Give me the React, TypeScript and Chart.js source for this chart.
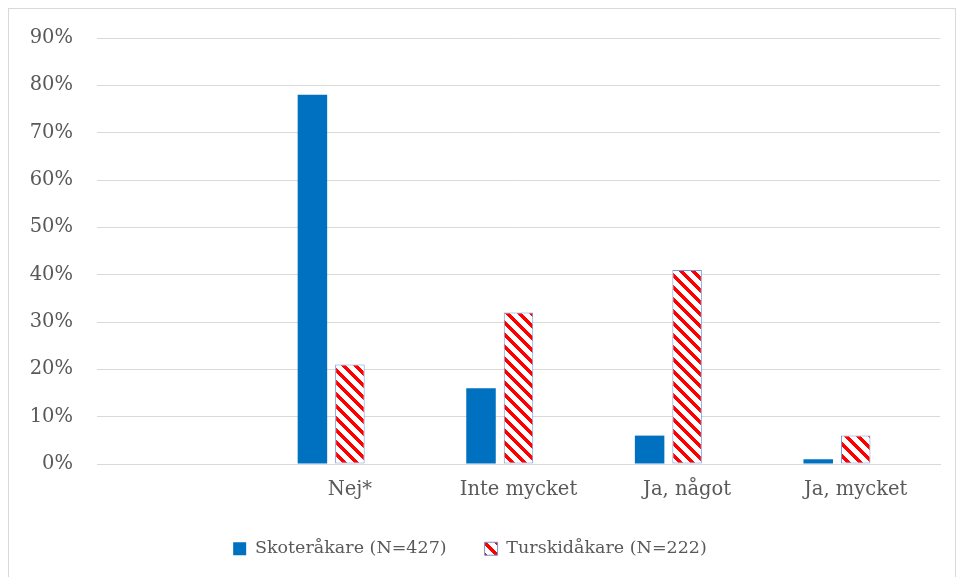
import React, { useEffect, useRef } from "react";
import { Chart, registerables } from "chart.js";

Chart.register(...registerables);

const categories = ["", "Nej*", "Inte mycket", "Ja, något", "Ja, mycket"];
const skoterValues = [null, 78, 16, 6, 1];
const turskidValues = [null, 21, 32, 41, 6];
const emptySeries = [null, null, null, null, null];
const seriesNames = ["Skoteråkare (N=427)", "Turskidåkare (N=222)", ""];
const yMax = 90;
const yStep = 10;

function makePattern(): CanvasPattern | string {
  const size = 12;
  const c = document.createElement("canvas");
  c.width = size;
  c.height = size;
  const ctx = c.getContext("2d");
  if (!ctx) return "#ff0000";
  ctx.fillStyle = "#ffffff";
  ctx.fillRect(0, 0, size, size);
  ctx.fillStyle = "#ff0000";
  for (let y = 0; y < size; y++) {
    for (let x = 0; x < size; x++) {
      const d = (((x - y) % size) + size) % size;
      if (d < 5) ctx.fillRect(x, y, 1, 1);
    }
  }
  const p = ctx.createPattern(c, "repeat");
  return p || "#ff0000";
}

export default function App() {
  const canvasRef = useRef<HTMLCanvasElement | null>(null);

  useEffect(() => {
    if (!canvasRef.current) return;
    const pattern = makePattern();
    const font = "'DejaVu Serif', serif";
    const chart = new Chart(canvasRef.current, {
      type: "bar",
      data: {
        labels: categories,
        datasets: [
          {
            label: seriesNames[0],
            data: skoterValues,
            backgroundColor: "#0070c0",
            borderWidth: 0,
            categoryPercentage: 0.667,
            barPercentage: 0.787,
          },
          {
            label: seriesNames[1],
            data: turskidValues,
            backgroundColor: pattern as any,
            borderColor: "#6f98d4",
            borderWidth: 1,
            borderSkipped: false,
            categoryPercentage: 0.667,
            barPercentage: 0.787,
          },
          {
            label: seriesNames[2],
            data: emptySeries,
            backgroundColor: "#a5a5a5",
            categoryPercentage: 0.667,
            barPercentage: 0.787,
          },
        ],
      },
      options: {
        responsive: false,
        animation: false,
        maintainAspectRatio: false,
        layout: { padding: { left: 0, right: 17, top: 38, bottom: 9.5 } },
        plugins: {
          tooltip: { enabled: false },
          legend: {
            position: "bottom",
            labels: {
              filter: (item) => item.text !== "",
              boxWidth: 13,
              boxHeight: 13,
              padding: 38,
              color: "#595959",
              font: { family: font, size: 17.5 },
            },
          },
        },
        scales: {
          x: {
            grid: { display: false, drawTicks: false },
            border: { display: true, color: "#d9d9d9", width: 1 },
            ticks: {
              color: "#595959",
              padding: 14,
              maxRotation: 0,
              autoSkip: false,
              font: { family: font, size: 19.5 },
            },
            afterFit: (scale: any) => {
              scale.height = 38;
            },
          },
          y: {
            min: 0,
            max: yMax,
            grid: { color: "#d9d9d9", lineWidth: 1, drawTicks: false },
            border: { display: false },
            ticks: {
              stepSize: yStep,
              color: "#595959",
              padding: 24,
              font: { family: font, size: 19.5 },
              callback: (v: any) => v + "%",
            },
            afterFit: (scale: any) => {
              scale.width = 97;
            },
          },
        },
      },
    });
    return () => chart.destroy();
  }, []);

  return (
    <div
      style={{
        position: "absolute",
        left: 0,
        top: 0,
        width: 957,
        height: 577,
        overflow: "hidden",
        background: "#ffffff",
      }}
    >
      <canvas
        ref={canvasRef}
        width={957}
        height={577}
        style={{ position: "absolute", left: 0, top: 0, width: 957, height: 577 }}
      />
      <div
        style={{
          position: "absolute",
          left: 8,
          top: 8,
          width: 946,
          height: 620,
          border: "1px solid #d9d9d9",
          pointerEvents: "none",
        }}
      />
    </div>
  );
}
